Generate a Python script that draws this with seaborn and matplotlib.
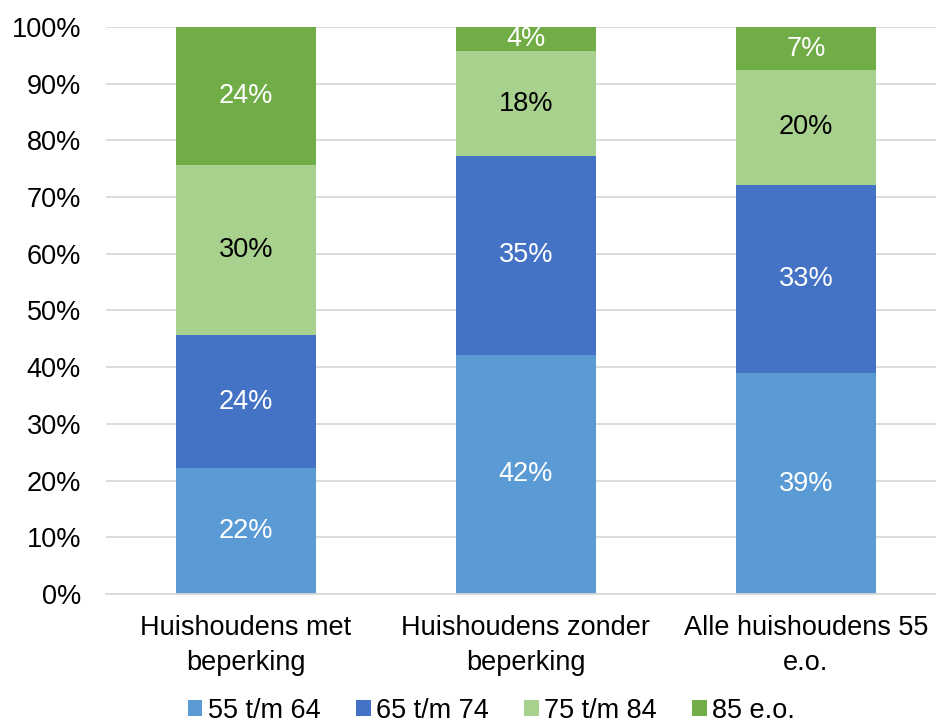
import numpy as np
import pandas as pd
import seaborn as sb
import matplotlib.pyplot as plt
from matplotlib.patches import Patch

categories = ['Huishoudens met\nbeperking', 'Huishoudens zonder\nbeperking', 'Alle huishoudens 55\ne.o.']
series = ['55 t/m 64', '65 t/m 74', '75 t/m 84', '85 e.o.']
age_55_64 = [22.2, 42.2, 38.9]
age_65_74 = [23.4, 35.1, 33.3]
age_75_84 = [30.0, 18.4, 20.2]
age_85_up = [24.4, 4.3, 7.6]
labels = [['22%', '42%', '39%'],
          ['24%', '35%', '33%'],
          ['30%', '18%', '20%'],
          ['24%', '4%', '7%']]
colours = ['#5B9BD5', '#4472C4', '#A9D18E', '#70AD47']
text_colours = ['white', 'white', 'black', 'white']

sb.set_style('white')
plt.rcParams['font.family'] = ['Liberation Sans', 'DejaVu Sans']
plt.rcParams['text.color'] = 'black'

df = pd.DataFrame({'cat': categories, '55 t/m 64': age_55_64, '65 t/m 74': age_65_74,
                   '75 t/m 84': age_75_84, '85 e.o.': age_85_up})
cum = df[series].cumsum(axis=1)

fig = plt.figure(figsize=(9.36, 7.25), dpi=100)
ax = fig.add_axes([0.1132, 0.1807, 0.8974, 0.7821])

# draw tallest cumulative first, then overlay the smaller ones
for i in range(len(series) - 1, -1, -1):
    sb.barplot(x=df['cat'], y=cum[series[i]], color=colours[i], width=0.5,
               saturation=1, linewidth=0, ax=ax, zorder=2)

for i, s in enumerate(series):
    bottoms = cum[s] - df[s]
    for j in range(len(categories)):
        ax.text(j, bottoms[j] + df[s][j] / 2, labels[i][j], ha='center', va='center',
                fontsize=19.5, color=text_colours[i], zorder=3)

ax.set_ylim(0, 100)
ax.set_xlim(-0.5, 2.5)
ax.set_yticks(np.arange(0, 101, 10))
ax.set_yticklabels([f'{v}%' for v in range(0, 101, 10)])
ax.yaxis.grid(True, color='#D9D9D9', linewidth=1.3, zorder=0)
ax.set_axisbelow(True)
for sp in ['top', 'right', 'left']:
    ax.spines[sp].set_visible(False)
ax.spines['bottom'].set_color('#D9D9D9')
ax.spines['bottom'].set_linewidth(1.3)
ax.tick_params(axis='both', length=0, labelsize=19.5, labelcolor='black')
ax.tick_params(axis='y', pad=18)
ax.tick_params(axis='x', pad=15)
for t in ax.get_xticklabels():
    t.set_linespacing(1.45)
ax.set_xlabel('')
ax.set_ylabel('')

handles = [Patch(facecolor=c, edgecolor='none') for c in colours]
fig.legend(handles, series, loc='lower center', bbox_to_anchor=(0.525, 0.0), ncol=4,
           frameon=False, fontsize=19.5, handlelength=0.55, handleheight=0.55,
           handletextpad=0.2, columnspacing=1.3, borderpad=0.0, borderaxespad=0.05,
           labelcolor='black')

fig.savefig('out.png', dpi=100)
